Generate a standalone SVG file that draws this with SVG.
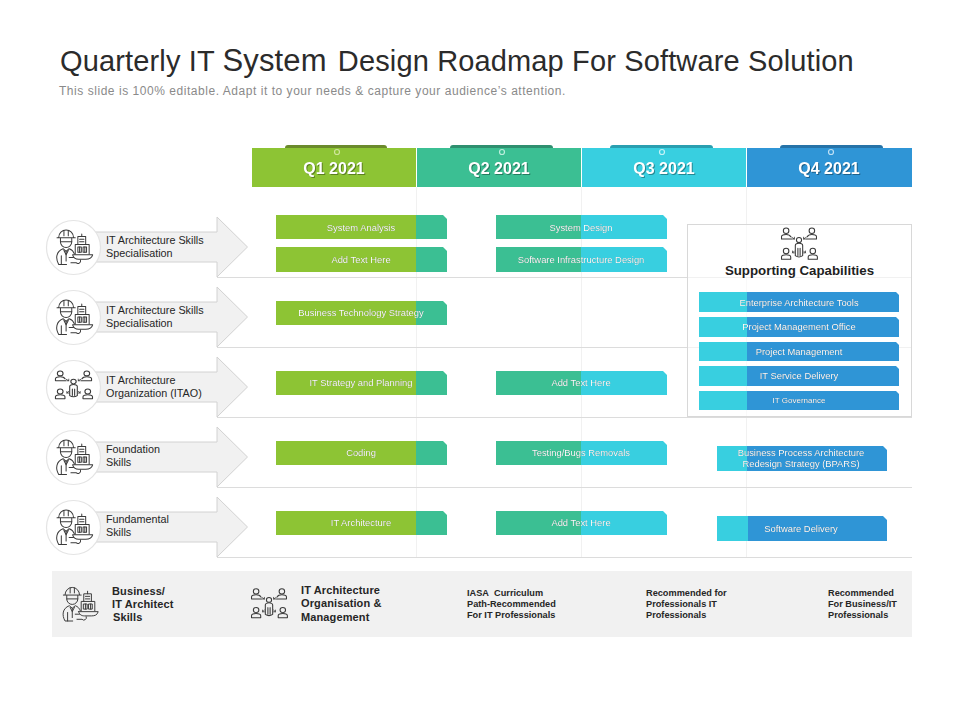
<svg xmlns="http://www.w3.org/2000/svg" width="960" height="720" viewBox="0 0 960 720">
<style>
text{font-family:"Liberation Sans",Arial,sans-serif}
.title{font-size:29px;fill:#2b2b2b}
.sub{font-size:12px;fill:#8a8a8a;letter-spacing:.54px}
.hd{font-size:16px;font-weight:bold;fill:#fff;text-anchor:middle;filter:drop-shadow(1px 1px .6px rgba(0,0,0,.35))}
.bl{font-size:9.4px;fill:#fff;text-anchor:middle;filter:drop-shadow(.6px .6px .5px rgba(0,0,0,.45))}
.rl{font-size:10.8px;fill:#262626}
.fb{font-size:11px;font-weight:bold;fill:#262626;letter-spacing:.12px}
.fs{font-size:9.2px;font-weight:bold;fill:#262626}
.g{fill:#8dc434}.t{fill:#3bbf93}.c{fill:#38cfe0}.b{fill:#2f95d6}
.ln{stroke:#dcdcdc;stroke-width:1;fill:none}
.vl{stroke:#f1f1f1;stroke-width:1;fill:none}
.arrow{fill:#f1f1f1;stroke:#d2d2d2;stroke-width:1}
.circ{fill:#fff;stroke:#e4e4e4;stroke-width:1.2}
.ic{fill:none;stroke:#3a3a3a;stroke-width:1.15;stroke-linejoin:round;stroke-linecap:round}
.pin{fill:none;stroke-width:1.2}
</style>
<defs>
<g id="worker" class="ic">
<path d="M-17,-11A8.500,8.500 0 0 1 0,-11"/><path d="M-19,-10.500H2"/><path d="M-11,-19V-13M-6,-19V-13"/>
<path d="M-15,-10V-6A6.500,6.500 0 0 0 -2,-6V-10"/><path d="M-15,-6H-2"/>
<path d="M-8,20H-17C-21,13 -20,5 -12,2L-8.500,5L-5,2C-2,3 0,5 1,8"/><path d="M-8.500,5V16M-14,10V20M-5,12H0"/><path d="M-11,4L-8.500,9L-6,4"/>
<path d="M5,-3V-12H14V-3"/><path d="M7,-9H12M7,-6H12M9.500,-12V-15"/>
<path d="M2,8V-3H18V8"/><path d="M5,0H9V6H5ZM11,0H15V6H11Z"/><path d="M7,0V6M13,0V6"/>
<path d="M-1,9H22C21,13 18,14 14,14H6C3,14 0,13 -1,9Z"/><path d="M-3,18H3A3,3 0 0 0 8,15"/>
</g>
<g id="people" class="ic">
<circle cx="0" cy="-6" r="2.800"/><path d="M-4,11V0Q-4,-2.500 0,-2.500Q4,-2.500 4,0V11Q0,14 -4,11M-1.200,3V11M1.200,3V11"/>
<circle cx="-14" cy="-16" r="3"/><path d="M-19,-7V-9.500Q-19,-12 -14,-12Q-10,-12 -9,-9.500M-19,-7H-8"/>
<circle cx="14" cy="-16" r="3"/><path d="M19,-7V-9.500Q19,-12 14,-12Q10,-12 9,-9.500M19,-7H8"/>
<circle cx="-14" cy="6" r="3"/><path d="M-19,15V12.500Q-19,10 -14,10Q-9,10 -9,12.500V15Z"/>
<circle cx="15" cy="6" r="3"/><path d="M10,15V12.500Q10,10 15,10Q20,10 20,12.500V15Z"/>
<path d="M-8,-9L-5,-7M-5,-9V-7H-7M8,-9L5,-7M5,-9V-7H7M-7,8L-5,6M-7,6V8H-5M7,8L5,6M7,6V8H5" stroke-width=".9"/>
</g>
</defs>
<rect width="960" height="720" fill="#fff"/>
<text class="title" x="60" y="70.500" letter-spacing=".14">Quarterly IT <tspan font-size="31">System</tspan><tspan dx="3"> Design Roadmap For Software Solution</tspan></text>
<text class="sub" x="59" y="95">This slide is 100% editable. Adapt it to your needs &amp; capture your audience’s attention.</text>

<g id="grid">
<path class="vl" d="M416.500,187V557M581.500,187V557M746.500,187V557"/>
<path class="ln" d="M217,277.500H912M217,347.500H912M217,417.500H912M217,487.500H912M217,557.500H912"/>
</g>

<g id="headers">
<g id="q1"><rect x="285" y="145" width="102" height="8" rx="3" fill="#6b8a2c"/><rect class="g" x="252" y="148" width="164" height="39"/><circle class="pin" cx="337" cy="152" r="2.500" stroke="#cfe59b"/><text class="hd" x="334" y="174">Q1 2021</text></g>
<g id="q2"><rect x="450" y="145" width="103" height="8" rx="3" fill="#2f8f6f"/><rect class="t" x="417" y="148" width="164" height="39"/><circle class="pin" cx="502" cy="152" r="2.500" stroke="#bdeedd"/><text class="hd" x="499" y="174">Q2 2021</text></g>
<g id="q3"><rect x="610" y="145" width="103" height="8" rx="3" fill="#2a9fb0"/><rect class="c" x="582" y="148" width="164" height="39"/><circle class="pin" cx="662" cy="152" r="2.500" stroke="#c5f2f7"/><text class="hd" x="664" y="174">Q3 2021</text></g>
<g id="q4"><rect x="780" y="145" width="103" height="8" rx="3" fill="#2673a8"/><rect class="b" x="747" y="148" width="165" height="39"/><circle class="pin" cx="831" cy="152" r="2.500" stroke="#bfe0f5"/><text class="hd" x="829" y="174">Q4 2021</text></g>
</g>

<g id="row1"><path class="arrow" d="M95,232H217V217L247.500,247L217,277V262H95Z"/><circle class="circ" cx="73.500" cy="247.500" r="27"/><use href="#worker" transform="translate(73.500 247) scale(.87)"/><text class="rl" x="106" y="244">IT Architecture Skills</text><text class="rl" x="106" y="257">Specialisation</text></g>
<g id="row2"><path class="arrow" d="M95,302H217V287L247.500,317L217,347V332H95Z"/><circle class="circ" cx="73.500" cy="317.500" r="27"/><use href="#worker" transform="translate(73.500 317) scale(.87)"/><text class="rl" x="106" y="314">IT Architecture Skills</text><text class="rl" x="106" y="327">Specialisation</text></g>
<g id="row3"><path class="arrow" d="M95,372H217V357L247.500,387L217,417V402H95Z"/><circle class="circ" cx="73.500" cy="387.500" r="27"/><use href="#people" transform="translate(73.500 386.500) scale(.95 .82)"/><text class="rl" x="106" y="384">IT Architecture</text><text class="rl" x="106" y="397">Organization (ITAO)</text></g>
<g id="row4"><path class="arrow" d="M95,442H217V427L247.500,457L217,487V472H95Z"/><circle class="circ" cx="73.500" cy="457.500" r="27"/><use href="#worker" transform="translate(73.500 457) scale(.87)"/><text class="rl" x="106" y="453">Foundation</text><text class="rl" x="106" y="466">Skills</text></g>
<g id="row5"><path class="arrow" d="M95,512H217V497L247.500,527L217,557V542H95Z"/><circle class="circ" cx="73.500" cy="527.500" r="27"/><use href="#worker" transform="translate(73.500 527) scale(.87)"/><text class="rl" x="106" y="523">Fundamental</text><text class="rl" x="106" y="536">Skills</text></g>

<g id="q1-bars">
<g id="b1"><path class="t" d="M416,215H443L447,219V239H416Z"/><rect class="g" x="276" y="215" width="140" height="24"/><text class="bl" x="361" y="231">System Analysis</text></g>
<g id="b2"><path class="t" d="M416,247H443L447,251V272H416Z"/><rect class="g" x="276" y="247" width="140" height="25"/><text class="bl" x="361" y="263">Add Text Here</text></g>
<g id="b3"><path class="t" d="M416,301H443L447,305V325H416Z"/><rect class="g" x="276" y="301" width="140" height="24"/><text class="bl" x="361" y="316">Business Technology Strategy</text></g>
<g id="b4"><path class="t" d="M416,371H443L447,375V395H416Z"/><rect class="g" x="276" y="371" width="140" height="24"/><text class="bl" x="361" y="386">IT Strategy and Planning</text></g>
<g id="b5"><path class="t" d="M416,441H443L447,445V465H416Z"/><rect class="g" x="276" y="441" width="140" height="24"/><text class="bl" x="361" y="456">Coding</text></g>
<g id="b6"><path class="t" d="M416,511H443L447,515V535H416Z"/><rect class="g" x="276" y="511" width="140" height="24"/><text class="bl" x="361" y="526">IT Architecture</text></g>
</g>
<g id="q2-bars">
<g id="c1"><path class="c" d="M581,215H663L667,219V239H581Z"/><rect class="t" x="496" y="215" width="85" height="24"/><text class="bl" x="581" y="231">System Design</text></g>
<g id="c2"><path class="c" d="M581,247H663L667,251V272H581Z"/><rect class="t" x="496" y="247" width="85" height="25"/><text class="bl" x="581" y="263">Software Infrastructure Design</text></g>
<g id="c3"><path class="c" d="M581,371H663L667,375V395H581Z"/><rect class="t" x="496" y="371" width="85" height="24"/><text class="bl" x="581" y="386">Add Text Here</text></g>
<g id="c4"><path class="c" d="M581,441H663L667,445V465H581Z"/><rect class="t" x="496" y="441" width="85" height="24"/><text class="bl" x="581" y="456">Testing/Bugs Removals</text></g>
<g id="c5"><path class="c" d="M581,511H663L667,515V535H581Z"/><rect class="t" x="496" y="511" width="85" height="24"/><text class="bl" x="581" y="526">Add Text Here</text></g>
</g>

<g id="supporting">
<rect x="687.500" y="224.500" width="224" height="192" fill="#fff" fill-opacity=".6" stroke="#d8d8d8"/>
<use href="#people" transform="translate(799 245.500) scale(.92)"/>
<text x="799.500" y="274.500" font-size="13.300" font-weight="bold" fill="#1f1f1f" text-anchor="middle">Supporting Capabilities</text>
<g id="s1"><path class="b" d="M747,292H896L899,295V312H747Z"/><rect class="c" x="699" y="292" width="48" height="20"/><text class="bl" x="799" y="306">Enterprise Architecture Tools</text></g>
<g id="s2"><path class="b" d="M747,317H896L899,320V337H747Z"/><rect class="c" x="699" y="317" width="48" height="20"/><text class="bl" x="799" y="330">Project Management Office</text></g>
<g id="s3"><path class="b" d="M747,342H896L899,345V361H747Z"/><rect class="c" x="699" y="342" width="48" height="19"/><text class="bl" x="799" y="355">Project Management</text></g>
<g id="s4"><path class="b" d="M747,366H896L899,369V386H747Z"/><rect class="c" x="699" y="366" width="48" height="20"/><text class="bl" x="799" y="379">IT Service Delivery</text></g>
<g id="s5"><path class="b" d="M747,391H896L899,394V410H747Z"/><rect class="c" x="699" y="391" width="48" height="19"/><text class="bl" x="799" y="403" style="font-size:8px">IT Governance</text></g>
</g>
<g id="bpars"><path class="b" d="M747,446H883L887,450V471H747Z"/><rect class="c" x="717" y="446" width="30" height="25"/><text class="bl" x="801" y="456">Business Process Architecture</text><text class="bl" x="801" y="467">Redesign Strategy (BPARS)</text></g>
<g id="delivery"><path class="b" d="M748,516H883L887,520V541H748Z"/><rect class="c" x="717" y="516" width="31" height="25"/><text class="bl" x="801" y="532">Software Delivery</text></g>

<g id="footer">
<rect x="52" y="571" width="860" height="66" fill="#f1f1f1"/>
<use href="#worker" transform="translate(79.500 604) scale(.85)"/>
<text class="fb" x="112" y="595">Business/</text><text class="fb" x="112" y="608">IT Architect</text><text class="fb" x="113" y="621">Skills</text>
<use href="#people" transform="translate(269 605) scale(.92 .85)"/>
<text class="fb" x="301" y="594">IT Architecture</text><text class="fb" x="301" y="607">Organisation &amp;</text><text class="fb" x="301" y="621">Management</text>
<text class="fs" x="467" y="596">IASA&#160; Curriculum</text><text class="fs" x="467" y="607">Path-Recommended</text><text class="fs" x="467" y="618">For IT Professionals</text>
<text class="fs" x="646" y="596">Recommended for</text><text class="fs" x="646" y="607">Professionals IT</text><text class="fs" x="646" y="618">Professionals</text>
<text class="fs" x="828" y="596">Recommended</text><text class="fs" x="828" y="607">For Business/IT</text><text class="fs" x="828" y="618">Professionals</text>
</g>
</svg>
